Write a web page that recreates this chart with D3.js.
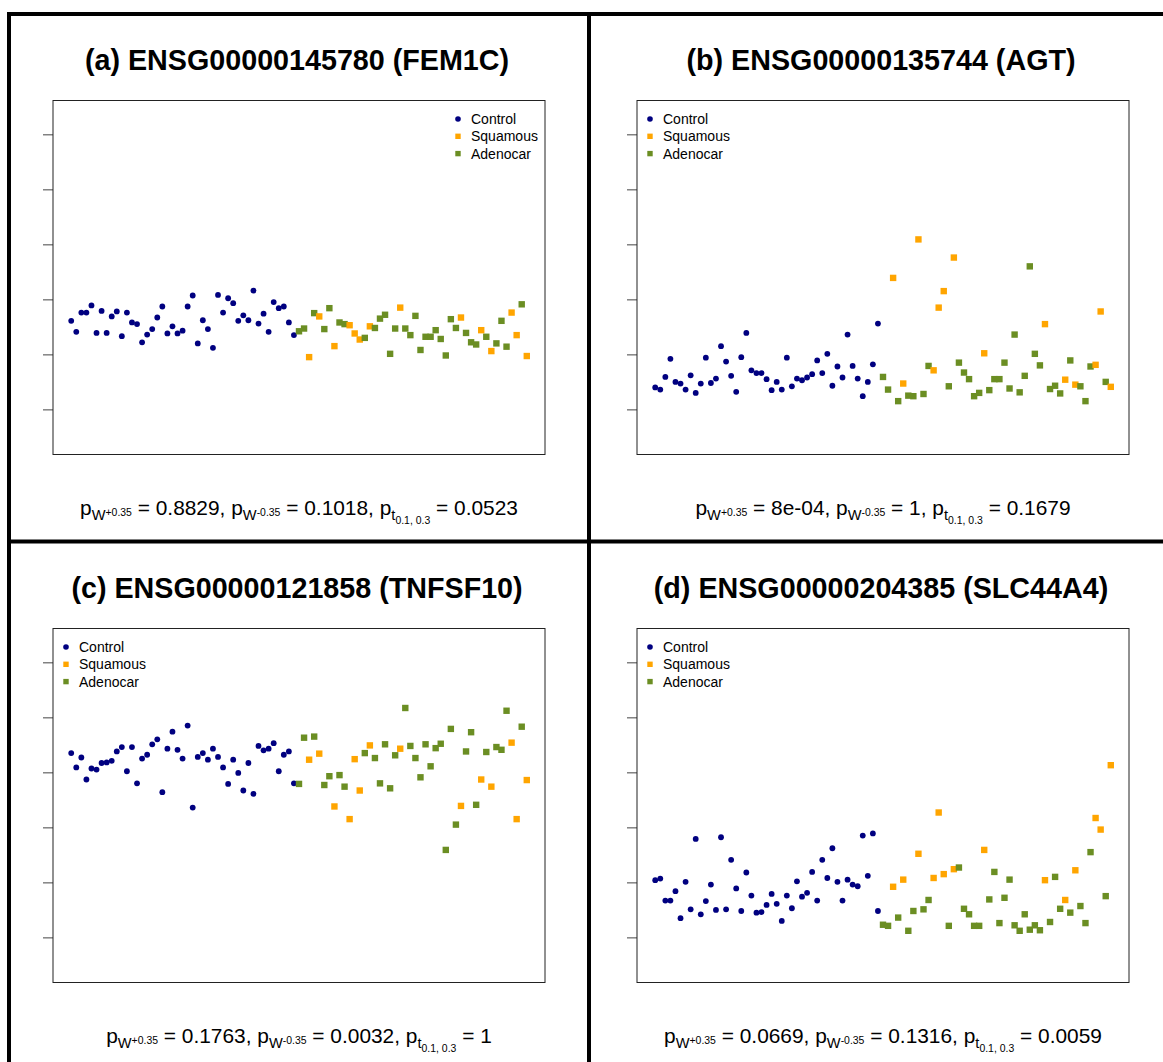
<!DOCTYPE html>
<html>
<head>
<meta charset="utf-8">
<script src="https://cdn.jsdelivr.net/npm/d3@7"></script>
<style>
  body { margin: 0; background: #fff; }
  svg { display: block; }
  text { font-family: "Liberation Sans", Arial, Helvetica, sans-serif; }
</style>
</head>
<body>
<svg id="fig" width="1163" height="1062"></svg>
<script>
// ---- sample layout: 45 controls first, then tumours in array order ----
const groupNames = ["Control", "Squamous", "Adenocar"];
const groupColours = ["#000080", "#FFA500", "#6B8E23"];
const nControl = 45;
const tumourGroups = [
  "Adenocar","Adenocar","Squamous","Adenocar","Squamous","Adenocar","Adenocar","Squamous",
  "Adenocar","Adenocar","Squamous","Squamous","Squamous","Adenocar","Squamous","Adenocar",
  "Adenocar","Adenocar","Adenocar","Adenocar","Squamous","Adenocar","Adenocar","Adenocar",
  "Adenocar","Adenocar","Adenocar","Adenocar","Adenocar","Adenocar","Adenocar","Adenocar",
  "Squamous","Adenocar","Adenocar","Adenocar","Squamous","Adenocar","Squamous","Adenocar",
  "Adenocar","Adenocar","Squamous","Squamous","Adenocar","Squamous"
];

// ---- expression values per gene (controls then tumours) ----
const fem1c = [
  2.61, 2.41, 2.76, 2.76, 2.89, 2.39, 2.79, 2.39, 2.69, 2.78, 2.33, 2.76, 2.58, 2.55, 2.22,
  2.36, 2.46, 2.67, 2.87, 2.38, 2.51, 2.38, 2.43, 2.87, 3.07, 2.20, 2.62, 2.46, 2.12, 3.08,
  2.76, 3.02, 2.93, 2.61, 2.71, 2.62, 3.16, 2.56, 2.74, 2.41, 2.95, 2.84, 2.87, 2.58, 2.35,
  2.42, 2.47, 1.95, 2.75, 2.69, 2.46, 2.84, 2.15, 2.58, 2.55, 2.53, 2.38, 2.27, 2.30, 2.51,
  2.48, 2.65, 2.72, 2.01, 2.47, 2.85, 2.47, 2.35, 2.70, 2.08, 2.32, 2.32, 2.44, 2.28, 1.98,
  2.64, 2.48, 2.67, 2.39, 2.22, 2.18, 2.44, 2.32, 2.06, 2.20, 2.61, 2.14, 2.76, 2.35, 2.91,
  1.97
];
const agt = [
  1.40, 1.36, 1.59, 1.92, 1.50, 1.47, 1.36, 1.62, 1.30, 1.47, 1.94, 1.48, 1.56, 2.15, 1.87,
  1.61, 1.32, 1.95, 2.39, 1.71, 1.66, 1.66, 1.55, 1.35, 1.50, 1.36, 1.94, 1.42, 1.56, 1.53,
  1.58, 1.64, 1.89, 1.66, 2.01, 1.43, 1.78, 1.58, 2.36, 1.79, 1.56, 1.24, 1.50, 1.82, 2.56,
  1.59, 1.36, 3.39, 1.15, 1.47, 1.25, 1.24, 4.09, 1.28, 1.79, 1.71, 2.85, 3.15, 1.42, 3.76,
  1.85, 1.67, 1.55, 1.24, 1.30, 2.02, 1.35, 1.55, 1.55, 1.85, 1.38, 2.36, 1.31, 1.61, 3.60,
  2.01, 1.80, 2.55, 1.37, 1.43, 1.29, 1.54, 1.89, 1.45, 1.42, 1.15, 1.78, 1.81, 2.78, 1.50,
  1.41
];
const tnfsf10 = [
  4.35, 4.09, 4.27, 3.87, 4.07, 4.05, 4.17, 4.18, 4.21, 4.38, 4.46, 4.02, 4.46, 3.80, 4.25,
  4.32, 4.51, 4.60, 3.64, 4.43, 4.74, 4.41, 4.25, 4.85, 3.36, 4.28, 4.35, 4.23, 4.43, 4.28,
  4.09, 3.79, 4.23, 3.99, 3.67, 4.17, 3.61, 4.48, 4.40, 4.43, 4.53, 4.02, 4.32, 4.38, 3.80,
  3.79, 4.63, 4.23, 4.65, 4.34, 3.77, 3.93, 3.38, 3.95, 3.74, 3.15, 4.24, 3.67, 4.35, 4.49,
  4.26, 3.80, 4.51, 3.71, 4.31, 4.43, 5.17, 4.48, 4.26, 3.91, 4.51, 4.11, 4.44, 4.52, 2.59,
  4.79, 3.05, 3.39, 4.38, 4.73, 3.41, 3.87, 4.37, 3.74, 4.46, 4.41, 5.12, 4.54, 3.15, 4.83,
  3.86
];
const slc44a4 = [
  2.04, 2.07, 1.67, 1.67, 1.84, 1.35, 2.01, 1.51, 2.79, 1.42, 1.66, 1.96, 1.50, 2.82, 1.51,
  2.41, 1.89, 1.48, 2.18, 1.76, 1.45, 1.46, 1.59, 1.79, 1.61, 1.30, 1.76, 1.53, 2.02, 1.74,
  1.81, 2.19, 1.67, 2.41, 2.08, 2.62, 2.01, 1.67, 2.05, 1.96, 1.93, 2.85, 2.12, 2.89, 1.48,
  1.23, 1.21, 1.92, 1.36, 2.05, 1.12, 1.48, 2.52, 1.51, 1.68, 2.08, 3.27, 2.15, 1.21, 2.24,
  2.27, 1.52, 1.42, 1.21, 1.21, 2.59, 1.69, 2.19, 1.26, 1.72, 2.05, 1.22, 1.12, 1.42, 1.14,
  1.22, 1.13, 2.04, 1.28, 2.10, 1.52, 1.68, 1.45, 2.22, 1.57, 1.26, 2.55, 3.17, 2.96, 1.75,
  4.13
];

const titles = [
  "(a) ENSG00000145780 (FEM1C)",
  "(b) ENSG00000135744 (AGT)",
  "(c) ENSG00000121858 (TNFSF10)",
  "(d) ENSG00000204385 (SLC44A4)"
];
const pWplus  = ["0.8829", "8e-04", "0.1763", "0.0669"];
const pWminus = ["0.1018", "1", "0.0032", "0.1316"];
const pT      = ["0.0523", "0.1679", "1", "0.0059"];
const legendSide = ["right", "left", "left", "left"];
const yTicks = [1, 2, 3, 4, 5, 6];

// ---- layout ----
const svg = d3.select("#fig");
const sampleGroup = d3.range(nControl + tumourGroups.length)
  .map(i => i < nControl ? "Control" : tumourGroups[i - nControl]);
const nSamples = sampleGroup.length;
const colour = d3.scaleOrdinal().domain(groupNames).range(groupColours);

const box = { left: 53, right: 545, top: 100.5, bottom: 454.5 };
const offsets = [[0, 0], [584, 0], [0, 528], [584, 528]];
const series = [fem1c, agt, tnfsf10, slc44a4];

const xPad = 0.04 * (nSamples - 1);
const x = d3.scaleLinear().domain([1 - xPad, nSamples + xPad]).range([box.left, box.right]);
const y = d3.scaleLinear().domain([0.18, 6.615]).range([box.bottom, box.top]);

const sq = 6.4, rad = 2.9;

function drawMarker(sel, group, cx, cy, r, s) {
  if (group === "Control") {
    sel.append("circle").attr("cx", cx).attr("cy", cy).attr("r", r).attr("fill", colour(group));
  } else {
    sel.append("rect").attr("x", cx - s / 2).attr("y", cy - s / 2)
      .attr("width", s).attr("height", s).attr("fill", colour(group));
  }
}

series.forEach((vals, k) => {
  const g = svg.append("g").attr("transform", `translate(${offsets[k][0]},${offsets[k][1]})`);
  const cx = (box.left + box.right) / 2;

  // title
  g.append("text").attr("transform", `translate(${cx - 2},70)`)
    .attr("text-anchor", "middle")
    .attr("font-size", 28.7).attr("font-weight", "bold").attr("fill", "#000")
    .text(titles[k]);

  // y ticks (unlabelled)
  const axis = d3.axisLeft(y).tickValues(yTicks).tickSize(10).tickFormat("");
  const ag = g.append("g").attr("transform", `translate(${box.left},0)`).call(axis);
  ag.select(".domain").remove();
  ag.selectAll(".tick line").attr("stroke", "#444");

  // points
  const pts = g.append("g");
  vals.forEach((v, i) => drawMarker(pts, sampleGroup[i], x(i + 1), y(v), rad, sq));

  // plot frame
  g.append("rect").attr("x", box.left).attr("y", box.top)
    .attr("width", box.right - box.left).attr("height", box.bottom - box.top)
    .attr("fill", "none").attr("stroke", "#222").attr("stroke-width", 1);

  // legend
  const lx = legendSide[k] === "right" ? box.right - 87 : box.left + 13;
  groupNames.forEach((name, j) => {
    const ly = box.top + 18.5 + j * 17.3;
    drawMarker(g, name, lx, ly, 2.8, 5.4);
    g.append("text").attr("x", lx + 13).attr("y", ly).attr("dy", "0.35em")
      .attr("font-size", 14).attr("fill", "#000").text(name);
  });

  // p-value line with nested subscripts
  const fs = 20;
  const segs = [
    { t: "p", s: 1, o: 0 }, { t: "W", s: 0.7, o: 5 }, { t: "+0.35", s: 0.5, o: 0.5 },
    { t: " = " + pWplus[k] + ", ", s: 1, o: 0 },
    { t: "p", s: 1, o: 0 }, { t: "W", s: 0.7, o: 5 }, { t: "-0.35", s: 0.5, o: 0.5 },
    { t: " = " + pWminus[k] + ", ", s: 1, o: 0 },
    { t: "p", s: 1, o: 0 }, { t: "t", s: 0.7, o: 5 }, { t: "0.1, 0.3", s: 0.5, o: 9 },
    { t: " = " + pT[k], s: 1, o: 0 }
  ];
  const st = g.append("text").attr("transform", `translate(${cx},515) scale(1.045,1)`)
    .attr("text-anchor", "middle")
    .attr("fill", "#000").style("white-space", "pre");
  let cur = 0;
  segs.forEach(sg => {
    st.append("tspan").attr("font-size", fs * sg.s).attr("dy", sg.o - cur).text(sg.t);
    cur = sg.o;
  });
});

// figure frame and panel dividers
const frame = svg.append("g").attr("stroke", "#000").attr("stroke-width", 4);
frame.append("line").attr("x1", 7).attr("x2", 1163).attr("y1", 14).attr("y2", 14);
frame.append("line").attr("x1", 9).attr("x2", 9).attr("y1", 12).attr("y2", 1062);
frame.append("line").attr("x1", 589).attr("x2", 589).attr("y1", 12).attr("y2", 1062);
frame.append("line").attr("x1", 7).attr("x2", 1163).attr("y1", 541.5).attr("y2", 541.5);
</script>
</body>
</html>
